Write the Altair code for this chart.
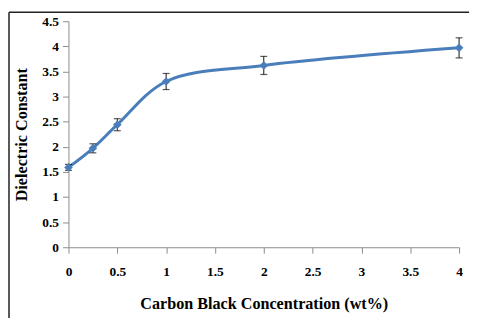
import altair as alt
import pandas as pd

conc = [0, 0.25, 0.5, 1, 2, 4]
dielectric = [1.59, 1.97, 2.44, 3.30, 3.62, 3.97]
err = [0.06, 0.09, 0.12, 0.16, 0.18, 0.20]
x_ticks = [0, 0.5, 1, 1.5, 2, 2.5, 3, 3.5, 4]
y_ticks = [0, 0.5, 1, 1.5, 2, 2.5, 3, 3.5, 4, 4.5]

df = pd.DataFrame({"x": conc, "y": dielectric, "e": err})
df["lo"] = df["y"] - df["e"]
df["hi"] = df["y"] + df["e"]

FONT = "Liberation Serif"
LINE = "#4a7ebb"

xs = alt.Scale(domain=[0, 4], nice=False, zero=False)
ys = alt.Scale(domain=[0, 4.5], nice=False)

x_axis = alt.Axis(values=x_ticks, grid=False, title="Carbon Black Concentration (wt%)",
                  format="~g", labelOverlap=False,
                  domainColor="#8c8c8c", tickColor="#8c8c8c", tickSize=6,
                  labelPadding=11, titlePadding=18, labelFlush=False)
y_axis = alt.Axis(values=y_ticks, grid=False, title="Dielectric Constant",
                  format="~g", labelOverlap=False,
                  domainColor="#8c8c8c", tickColor="#8c8c8c", tickSize=6,
                  labelPadding=4, titlePadding=12, labelFlush=False)

X = alt.X("x:Q", scale=xs, axis=x_axis)

base = alt.Chart(df)

line = base.mark_line(color=LINE, strokeWidth=3, interpolate="catmull-rom").encode(
    x=X, y=alt.Y("y:Q", scale=ys, axis=y_axis),
)
pts = base.mark_point(shape="diamond", filled=True, color=LINE, size=75, opacity=1).encode(
    x=X, y=alt.Y("y:Q", scale=ys, axis=y_axis)
)
rule = base.mark_rule(color="#111", strokeWidth=1).encode(
    x=X, y=alt.Y("lo:Q", scale=ys, axis=y_axis), y2="hi:Q"
)
cap_lo = base.mark_tick(color="#111", orient="horizontal", size=7, thickness=1.2).encode(
    x=X, y=alt.Y("lo:Q", scale=ys, axis=y_axis)
)
cap_hi = base.mark_tick(color="#111", orient="horizontal", size=7, thickness=1.2).encode(
    x=X, y=alt.Y("hi:Q", scale=ys, axis=y_axis)
)

frame = alt.Chart(alt.Data(values=[{"a": 1}]))
border_left = frame.mark_rule(color="#222", strokeWidth=1.5).encode(
    x=alt.value(-60), y=alt.value(-9), y2=alt.value(400)
)
border_top = frame.mark_rule(color="#222", strokeWidth=1.5).encode(
    x=alt.value(-60), x2=alt.value(500), y=alt.value(-9)
)

chart = alt.layer(line, rule, cap_lo, cap_hi, pts, border_left, border_top).properties(
    width=394, height=228,
    autosize=alt.AutoSizeParams(type="none"),
    padding={"left": 61, "top": 12, "right": 10, "bottom": 70},
).configure_view(stroke=None).configure_axis(
    labelFont=FONT, titleFont=FONT, labelFontSize=13.5, titleFontSize=16.3,
    labelFontWeight="bold", titleFontWeight="bold", labelColor="#000", titleColor="#000",
)

chart.save("out.html", embed_options={"renderer": "svg", "actions": False})
